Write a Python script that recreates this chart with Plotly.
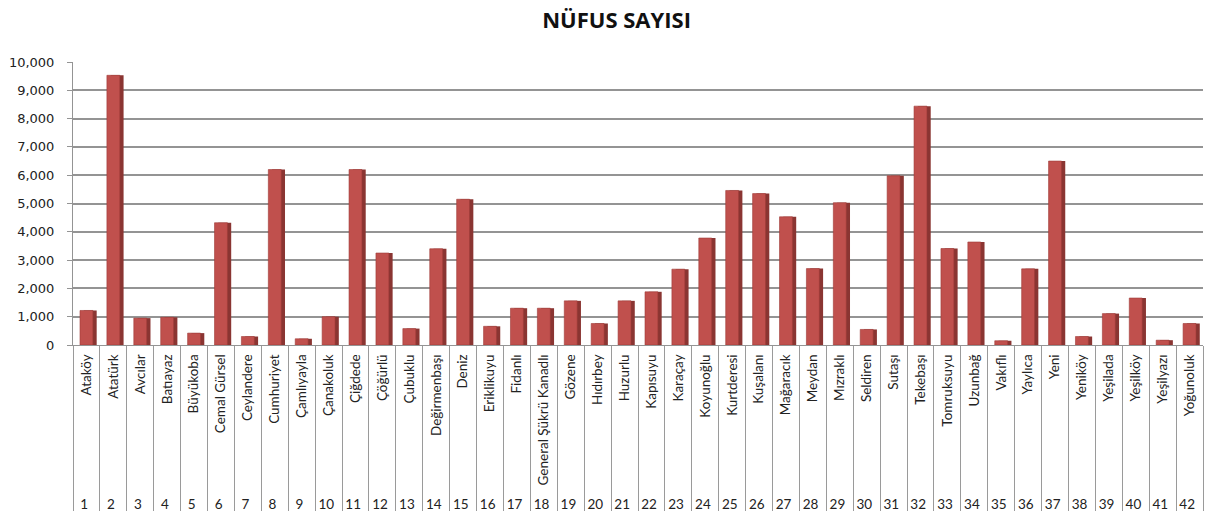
import plotly.graph_objects as go

names = ["Ataköy", "Atatürk", "Avcılar", "Batıayaz", "Büyükoba", "Cemal Gürsel", "Ceylandere",
         "Cumhuriyet", "Çamlıyayla", "Çanakoluk", "Çiğdede", "Çöğürlü", "Çubuklu", "Değirmenbaşı",
         "Deniz", "Eriklikuyu", "Fidanlı", "General Şükrü Kanadlı", "Gözene", "Hıdırbey", "Huzurlu",
         "Kapısuyu", "Karaçay", "Koyunoğlu", "Kurtderesi", "Kuşalanı", "Mağaracık", "Meydan",
         "Mızraklı", "Seldiren", "Sutaşı", "Tekebaşı", "Tomruksuyu", "Uzunbağ", "Vakıflı",
         "Yaylıca", "Yeni", "Yeniköy", "Yeşilada", "Yeşilköy", "Yeşilyazı", "Yoğunoluk"]
numbers = [str(i) for i in range(1, 43)]
population = [1220, 9530, 950, 980, 420, 4320, 300, 6200, 220, 1000, 6200, 3250, 580, 3400,
              5150, 660, 1300, 1300, 1560, 760, 1560, 1880, 2680, 3780, 5460, 5350, 4530, 2700,
              5030, 550, 5980, 8440, 3410, 3640, 150, 2690, 6500, 300, 1110, 1660, 170, 760]

fig = go.Figure()
fig.add_trace(go.Bar(x=[numbers, names], y=population, offset=-0.10, width=0.48,
                     marker=dict(color="#8A3532", line=dict(width=0)), hoverinfo="skip",
                     showlegend=False))
fig.add_trace(go.Bar(x=[numbers, names], y=population, offset=-0.24, width=0.48,
                     marker=dict(color="#C0504D", line=dict(color="#9E3B38", width=0.6)),
                     showlegend=False))

fig.update_layout(
    width=1209, height=511,
    barmode="overlay",
    paper_bgcolor="white", plot_bgcolor="white",
    margin=dict(l=73, r=6, t=62, b=166),
    title=dict(text="<b>NÜFUS SAYISI</b>", x=0.51, xanchor="center", y=0.96, yanchor="middle",
               font=dict(family="Open Sans", size=22, color="#111111")),
    font=dict(family="Lato", size=13.5, color="#222222"),
)
fig.update_yaxes(range=[0, 10000], dtick=1000, tickformat=",", showgrid=True,
                 gridcolor="#949494", gridwidth=1.5, showline=True, linecolor="#949494",
                 ticks="outside", ticklen=5, tickcolor="#949494", ticklabelstandoff=10,
                 automargin=False,
                 tickfont=dict(family="DejaVu Sans", size=13, color="#222222"), zeroline=False)
fig.update_xaxes(type="multicategory", tickangle=-90, showline=True, linecolor="#949494",
                 showdividers=True, dividercolor="#9A9A9A", dividerwidth=1,
                 automargin=False, ticklabelstandoff=3,
                 tickfont=dict(family="Lato", size=13.5, color="#222222"))

fig.write_html("out.html", config={"displayModeBar": False},
               post_script="document.body.style.margin='0';document.body.style.overflow='hidden';")
